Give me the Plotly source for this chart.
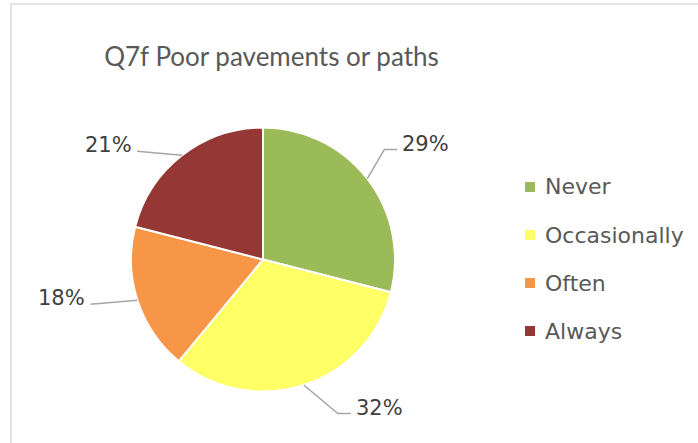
import math
import plotly.graph_objects as go

categories = ["Never", "Occasionally", "Often", "Always"]
values = [29, 32, 18, 21]
label_texts = ["29%", "32%", "18%", "21%"]
colors = ["#9BBB59", "#FFFF66", "#F79646", "#953735"]
title_text = "Q7f Poor pavements or paths"

W, H = 698, 443
CX, CY, R = 263, 259.5, 132
FONT = "DejaVu Sans"

# leader-line layout per slice: (elbow dx, elbow dy, horizontal run) in px from the slice edge
leader = [(17, -29, 13), (34, 28.5, 13), (-47, 4, 0), (-45, -4, 0)]

def px(x):
    return x / W

def py(y):
    return 1 - y / H

fig = go.Figure()
fig.add_trace(go.Pie(
    labels=categories, values=values, sort=False, direction="clockwise", rotation=0,
    marker=dict(colors=colors, line=dict(color="white", width=2)),
    textinfo="none", hoverinfo="label+percent", showlegend=False,
    domain=dict(x=[px(CX - R), px(CX + R)], y=[py(CY + R), py(CY - R)]),
))

shapes = []
annotations = []
total = sum(values)
cum = 0
for i, v in enumerate(values):
    mid = (cum + v / 2) / total * 2 * math.pi
    cum += v
    ex = CX + R * math.sin(mid)
    ey = CY - R * math.cos(mid)
    dx, dy, run = leader[i]
    bx, by = ex + dx, ey + dy
    side = 1 if dx > 0 else -1
    fx = bx + side * run
    shapes.append(dict(type="path", xref="paper", yref="paper",
                       path=f"M {px(ex)} {py(ey)} L {px(bx)} {py(by)} L {px(fx)} {py(by)}",
                       line=dict(color="#A6A6A6", width=1.5)))
    annotations.append(dict(
        text=label_texts[i], xref="paper", yref="paper",
        x=px(fx + side * 3), y=py(by - 6), xanchor="left" if side > 0 else "right",
        yanchor="middle", showarrow=False,
        font=dict(family=FONT, size=21, color="#404040")))

# custom legend
LX, LY0, LDY = 530, 187, 48
for i, c in enumerate(categories):
    yy = LY0 + i * LDY
    shapes.append(dict(type="rect", xref="paper", yref="paper",
                       x0=px(LX - 5), x1=px(LX + 5), y0=py(yy + 5), y1=py(yy - 5),
                       fillcolor=colors[i], line=dict(width=0)))
    annotations.append(dict(
        text=c, xref="paper", yref="paper", x=px(LX + 13), y=py(yy),
        xanchor="left", yanchor="middle", showarrow=False,
        font=dict(family=FONT, size=22, color="#595959")))

# chart frame
shapes.append(dict(type="rect", xref="paper", yref="paper",
                   x0=px(11), x1=px(W + 20), y0=py(H + 20), y1=py(4),
                   line=dict(color="#D9D9D9", width=1.5), fillcolor="rgba(0,0,0,0)", layer="below"))

fig.update_layout(
    width=W, height=H, margin=dict(l=0, r=0, t=0, b=0),
    paper_bgcolor="white", plot_bgcolor="white",
    title=dict(text=title_text, x=px(271.5), xanchor="center", y=py(57), yanchor="middle",
               font=dict(family="Lato", size=26, color="#595959")),
    shapes=shapes, annotations=annotations, showlegend=False,
)

fig.write_html("out.html", config={"displayModeBar": False},
               post_script="document.body.style.margin='0px';")
